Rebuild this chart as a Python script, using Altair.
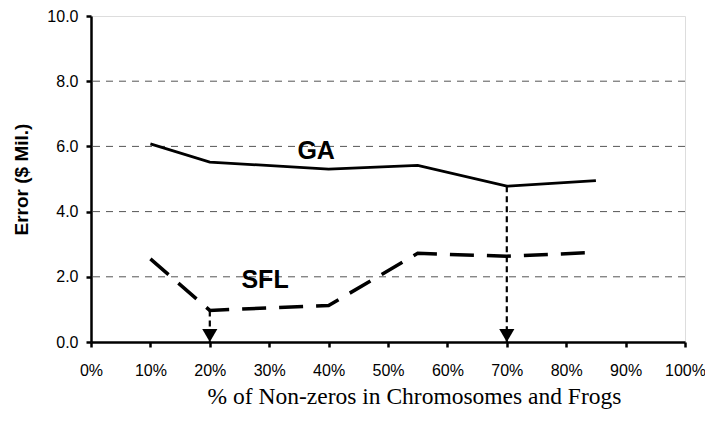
import altair as alt
import pandas as pd

# Data
x_pct = [10, 20, 40, 55, 70, 85]
ga_err = [6.08, 5.52, 5.30, 5.42, 4.78, 4.95]
sfl_err = [2.55, 0.97, 1.12, 2.72, 2.63, 2.75]

arrow_x = [20, 70]
arrow_top = [0.97, 4.78]

label_text = ["GA", "SFL"]
label_x = [37.9, 29.3]
label_y = [5.86, 1.91]

x_ticks = [0, 10, 20, 30, 40, 50, 60, 70, 80, 90, 100]
y_ticks = [0, 2, 4, 6, 8, 10]
grid_y = [2, 4, 6, 8]

ga_df = pd.DataFrame({"x": x_pct, "y": ga_err})
sfl_df = pd.DataFrame({"x": x_pct, "y": sfl_err})
arr_df = pd.DataFrame({"x": arrow_x, "y": arrow_top, "y0": [0.0] * len(arrow_x)})
lab_df = pd.DataFrame({"t": label_text, "x": label_x, "y": label_y})
grid_df = pd.DataFrame({"y": grid_y})

xs = alt.Scale(domain=[0, 100], nice=False, zero=False)
ys = alt.Scale(domain=[0, 10], nice=False)

SANS = "Liberation Sans"

x_axis = alt.Axis(
    values=x_ticks, labelExpr="datum.value + '%'", grid=False,
    labelFlush=False, labelOverlap=False,
    title="% of Non-zeros in Chromosomes and Frogs",
    titleFont="Liberation Serif", titleFontSize=23.5, titleFontWeight="normal",
    titleColor="black", titleX=323, titleY=54, titleBaseline="middle",
    titleAnchor="start", titleAlign="center",
    labelFont=SANS, labelFontSize=16, labelColor="black", labelPadding=15,
    tickSize=5, tickWidth=2.5, tickColor="black",
    domainColor="black", domainWidth=2.5,
)
y_axis = alt.Axis(
    values=y_ticks, format=".1f", grid=False,
    labelFlush=False, labelOverlap=False,
    title="Error ($ Mil.)",
    titleFont=SANS, titleFontSize=19, titleFontWeight="bold", titleColor="black",
    titleX=-70, titleY=163, titleAngle=270, titleAlign="center",
    titleBaseline="middle",
    labelFont=SANS, labelFontSize=16, labelColor="black", labelPadding=8,
    tickSize=5, tickWidth=2.5, tickColor="black",
    domainColor="black", domainWidth=2.5,
)

grid = alt.Chart(grid_df).mark_rule(
    color="#555555", strokeWidth=1, strokeDash=[7, 6]
).encode(y=alt.Y("y:Q", scale=ys, axis=y_axis))

ga_line = alt.Chart(ga_df).mark_line(color="black", strokeWidth=2.8).encode(
    x=alt.X("x:Q", scale=xs, axis=x_axis),
    y=alt.Y("y:Q", scale=ys, axis=y_axis),
)
sfl_line = alt.Chart(sfl_df).mark_line(
    color="black", strokeWidth=3.5, strokeDash=[24, 13]
).encode(x=alt.X("x:Q", scale=xs), y=alt.Y("y:Q", scale=ys))

arrows = alt.Chart(arr_df).mark_rule(
    color="black", strokeWidth=2.2, strokeDash=[6, 4]
).encode(x=alt.X("x:Q", scale=xs), y=alt.Y("y:Q", scale=ys), y2="y0:Q")

heads = alt.Chart(arr_df).mark_point(
    shape="triangle-down", filled=True, color="black", size=230, opacity=1,
    yOffset=-6.5, strokeWidth=0
).encode(x=alt.X("x:Q", scale=xs), y=alt.Y("y0:Q", scale=ys))

labels = alt.Chart(lab_df).mark_text(
    font=SANS, fontSize=25, fontWeight="bold", color="black",
    align="center", baseline="middle"
).encode(x=alt.X("x:Q", scale=xs), y=alt.Y("y:Q", scale=ys), text="t:N")

chart = alt.layer(grid, ga_line, sfl_line, arrows, heads, labels).properties(
    width=594, height=326,
    autosize=alt.AutoSizeParams(type="none"),
    padding={"left": 83, "top": 8, "right": 20, "bottom": 72},
).configure_view(stroke="black", strokeWidth=1.2).configure(background="white")

chart.save("out.html", embed_options={"renderer": "svg", "actions": False})
